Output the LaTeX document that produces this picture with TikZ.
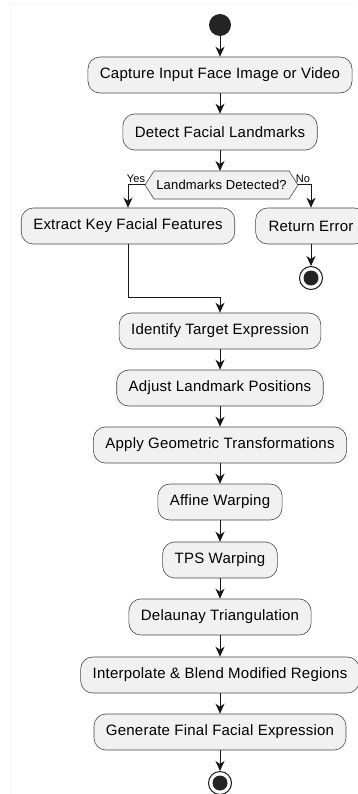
\documentclass[tikz,border=0pt]{standalone}
\usepackage{fontspec}
\setmainfont{Liberation Sans}[LetterSpace=1.5]
\usepackage{tikz}
\usetikzlibrary{arrows.meta,positioning,calc,shapes.misc}

\definecolor{actfill}{HTML}{F1F1F1}
\definecolor{umlline}{HTML}{181818}

\begin{document}
\begin{tikzpicture}[x=1pt,y=-1pt,
			act/.style={rectangle,rounded corners=12pt,draw=umlline!80,line width=0.6pt,fill=actfill,
				minimum height=36pt,inner xsep=12pt,font=\fontsize{15}{18}\selectfont},
			flow/.style={draw=umlline,line width=1pt,-{Stealth[length=10pt,width=9pt,inset=3pt]}},
			branch/.style={draw=umlline,line width=1pt},
			guard/.style={inner sep=0pt,font=\fontsize{11}{13}\selectfont},
			startdot/.style={circle,fill=umlline!95,minimum size=22pt,inner sep=0pt},
			enddot/.style={circle,draw=umlline,line width=1pt,fill=white,minimum size=23pt,inner sep=0pt,
				path picture={\fill[umlline!95] (path picture bounding box.center) circle (7.5pt);}}]
		\useasboundingbox (0,0) rectangle (357,794);
		\draw[gray!8,line width=0.8pt] (10,794) -- (10,3) -- (357,3);
		% main column
		\path 	(220,25) 	node 	(start) [startdot] {}
		        (220,75) 	node 	(capture) [act] {Capture Input Face Image or Video}
		        (220,132) 	node 	(detect) [act] {Detect Facial Landmarks}
		        (128,226) 	node 	(extract) [act] {Extract Key Facial Features}
		        (311,226) 	node 	(error) [act, inner xsep=13pt] {Return Error}
		        (311,278) 	node 	(stoperr) [enddot] {}
		        (220,331) 	node 	(target) [act] {Identify Target Expression}
		        (220,388) 	node 	(adjust) [act] {Adjust Landmark Positions}
		        (220,445) 	node 	(geom) [act] {Apply Geometric Transformations}
		        (220,502) 	node 	(affine) [act] {Affine Warping}
		        (220,560) 	node 	(tps) [act] {TPS Warping}
		        (220,617) 	node 	(delaunay) [act] {Delaunay Triangulation}
		        (220,675) 	node 	(blend) [act] {Interpolate \& Blend Modified Regions}
		        (220,732) 	node 	(final) [act] {Generate Final Facial Expression}
		        (220,783) 	node 	(stop) [enddot] {};
		% decision
		\draw [draw=umlline!80,line width=0.6pt,fill=actfill]
			(145,185) -- (154,171) -- (289,171) -- (298,185) -- (289,199) -- (154,199) -- cycle;
		\path 	(221.5,185) 	node 	(check) [font=\fontsize{13}{15}\selectfont] {Landmarks Detected?}
		        (145,185) 	coordinate 	(checkw)
		        (298,185) 	coordinate 	(checke)
		        (220,171) 	coordinate 	(checkn)
		        (220,297) 	coordinate 	(merge);
		\path 	(136,179) 	node 	(yes) [guard] {Yes}
		        (303,179) 	node 	(no) [guard] {No};
		\draw [flow] (start) -- (capture);
		\draw [flow] (capture) -- (detect);
		\draw [flow] (detect) -- (checkn);
		\draw [flow] (checkw) -| (extract.north);
		\draw [flow] (checke) -| (error.north);
		\draw [flow] (error) -- (stoperr);
		\draw [branch] (extract.south) |- (merge);
		\draw [flow] (merge) -- (target.north);
		\draw [flow] (target) -- (adjust);
		\draw [flow] (adjust) -- (geom);
		\draw [flow] (geom) -- (affine);
		\draw [flow] (affine) -- (tps);
		\draw [flow] (tps) -- (delaunay);
		\draw [flow] (delaunay) -- (blend);
		\draw [flow] (blend) -- (final);
		\draw [flow] (final) -- (stop);
	\end{tikzpicture}
\end{document}
